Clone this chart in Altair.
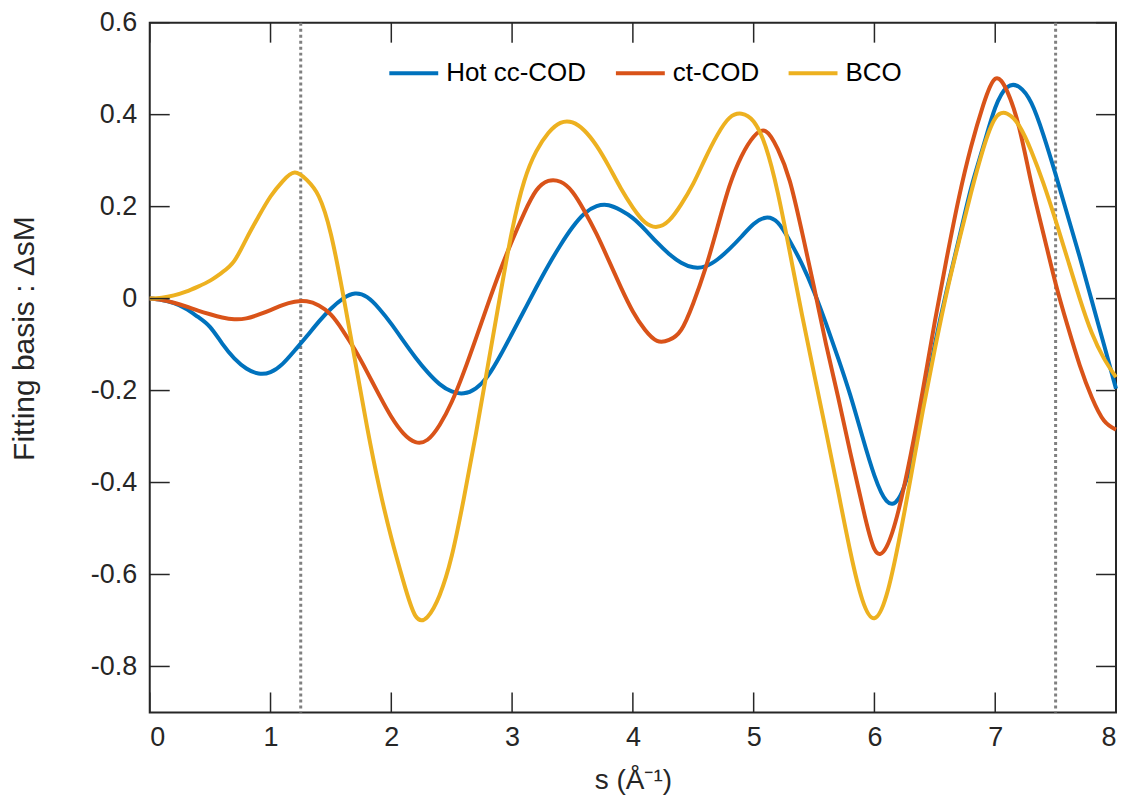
import altair as alt
import pandas as pd

s_grid = [round(i * 0.1, 1) for i in range(81)]

hot_v = [0, -0.003, -0.010, -0.022, -0.040, -0.062, -0.098, -0.130, -0.152, -0.163,
         -0.160, -0.142, -0.113, -0.082, -0.050, -0.022, 0.000, 0.011, 0.003, -0.022,
         -0.055, -0.092, -0.128, -0.160, -0.186, -0.202, -0.206, -0.195, -0.168, -0.125,
         -0.076, -0.026, 0.024, 0.072, 0.116, 0.155, 0.185, 0.201, 0.203, 0.192,
         0.175, 0.150, 0.122, 0.097, 0.078, 0.068, 0.070, 0.085, 0.108, 0.135,
         0.162, 0.176, 0.165, 0.125, 0.075, 0.015, -0.055, -0.130, -0.210, -0.300,
         -0.385, -0.440, -0.435, -0.360, -0.235, -0.100, 0.020, 0.130, 0.240, 0.330,
         0.415, 0.460, 0.460, 0.425, 0.355, 0.270, 0.180, 0.090, -0.005, -0.100,
         -0.196]

ct_v = [0, -0.003, -0.009, -0.017, -0.026, -0.034, -0.041, -0.045, -0.043, -0.035,
        -0.025, -0.014, -0.007, -0.006, -0.015, -0.035, -0.070, -0.112, -0.160, -0.210,
        -0.257, -0.293, -0.312, -0.307, -0.275, -0.225, -0.160, -0.087, -0.012, 0.060,
        0.126, 0.186, 0.235, 0.256, 0.254, 0.232, 0.190, 0.140, 0.083, 0.025,
        -0.028, -0.068, -0.092, -0.090, -0.068, -0.010, 0.065, 0.155, 0.245, 0.310,
        0.352, 0.364, 0.325, 0.255, 0.145, 0.025, -0.100, -0.215, -0.335, -0.450,
        -0.545, -0.540, -0.460, -0.340, -0.200, -0.050, 0.090, 0.220, 0.330, 0.420,
        0.478, 0.450, 0.370, 0.250, 0.140, 0.033, -0.060, -0.145, -0.215, -0.265,
        -0.285]

bco_v = [0, 0.002, 0.007, 0.015, 0.026, 0.039, 0.057, 0.082, 0.130, 0.178,
         0.222, 0.255, 0.274, 0.258, 0.222, 0.140, 0.010, -0.135, -0.280, -0.410,
         -0.520, -0.615, -0.690, -0.692, -0.645, -0.560, -0.435, -0.295, -0.145, 0.005,
         0.148, 0.255, 0.320, 0.360, 0.382, 0.383, 0.365, 0.332, 0.288, 0.240,
         0.198, 0.166, 0.156, 0.170, 0.205, 0.250, 0.305, 0.356, 0.393, 0.402,
         0.385, 0.330, 0.230, 0.100, -0.035, -0.163, -0.290, -0.420, -0.550, -0.655,
         -0.695, -0.645, -0.530, -0.390, -0.245, -0.110, 0.015, 0.125, 0.230, 0.325,
         0.392, 0.402, 0.375, 0.320, 0.250, 0.170, 0.085, 0.000, -0.075, -0.130,
         -0.171]

series_names = ["Hot cc-COD", "ct-COD", "BCO"]
series_colors = ["#0072BD", "#D95319", "#EDB120"]
x_ticks = [0, 1, 2, 3, 4, 5, 6, 7, 8]
y_ticks = [-0.8, -0.6, -0.4, -0.2, 0, 0.2, 0.4, 0.6]
v_lines = [1.25, 7.5]

W, H = 968, 691
FONT = "Liberation Sans"
AX = "#262626"
TL = 20

def frame(name, v):
    return pd.DataFrame({"s": s_grid, "val": v, "series": name})

dfs = [frame(series_names[0], hot_v),
       frame(series_names[1], ct_v),
       frame(series_names[2], bco_v)]

xs = alt.Scale(domain=[0, 8], nice=False, zero=False)
ys = alt.Scale(domain=[-0.9, 0.6], nice=False, zero=False)
cs = alt.Scale(domain=series_names, range=series_colors)

x_axis = alt.Axis(values=x_ticks, ticks=False, domain=False, grid=False,
                  labelFont=FONT, labelFontSize=27, labelColor=AX, labelPadding=12,
                  labelExpr="'' + datum.value",
                  title="s (Å⁻¹)", titleFont=FONT, titleFontSize=28, titleFontWeight="normal",
                  titleColor=AX, titleX=W / 2, titleY=76, titleAlign="center",
                  titleBaseline="alphabetic")
y_axis = alt.Axis(values=y_ticks, ticks=False, domain=False, grid=False,
                  labelFont=FONT, labelFontSize=27, labelColor=AX, labelPadding=13,
                  labelExpr="'' + datum.value",
                  title="Fitting basis :  ΔsM", titleFont=FONT, titleFontSize=30,
                  titleFontWeight="normal", titleColor=AX, titleX=-116, titleY=316,
                  titleAngle=270, titleAlign="center", titleBaseline="alphabetic")

legend = alt.Legend(title=None, orient="none", legendX=238, legendY=24, direction="horizontal",
                    symbolType="stroke", symbolSize=2400, symbolStrokeWidth=4,
                    labelFont=FONT, labelFontSize=26, labelColor="black", labelOffset=6,
                    columnPadding=21, padding=0, values=series_names)

layers = []
vdf = pd.DataFrame({"s": v_lines})
layers.append(alt.Chart(vdf).mark_rule(color="#808080", strokeWidth=3, strokeDash=[3, 3]).encode(
    x=alt.X("s:Q", scale=xs, axis=x_axis), y=alt.value(0), y2=alt.value(H)))

for i, d in enumerate(dfs):
    layers.append(alt.Chart(d).mark_line(strokeWidth=4, interpolate="natural").encode(
        x=alt.X("s:Q", scale=xs, axis=x_axis),
        y=alt.Y("val:Q", scale=ys, axis=y_axis),
        color=alt.Color("series:N", scale=cs, legend=legend, sort=series_names)))

ydf = pd.DataFrame({"t": y_ticks})
xdf = pd.DataFrame({"t": x_ticks})
layers.append(alt.Chart(ydf).mark_rule(color=AX, strokeWidth=1.5).encode(
    y=alt.Y("t:Q", scale=ys, axis=y_axis), x=alt.value(0), x2=alt.value(TL)))
layers.append(alt.Chart(ydf).mark_rule(color=AX, strokeWidth=1.5).encode(
    y=alt.Y("t:Q", scale=ys, axis=y_axis), x=alt.value(W - TL), x2=alt.value(W)))
layers.append(alt.Chart(xdf).mark_rule(color=AX, strokeWidth=1.5).encode(
    x=alt.X("t:Q", scale=xs, axis=x_axis), y=alt.value(H - TL), y2=alt.value(H)))
layers.append(alt.Chart(xdf).mark_rule(color=AX, strokeWidth=1.5).encode(
    x=alt.X("t:Q", scale=xs, axis=x_axis), y=alt.value(0), y2=alt.value(TL)))

chart = alt.layer(*layers).properties(
    width=W, height=H,
    autosize=alt.AutoSizeParams(type="none"),
    padding={"left": 142, "top": 14, "right": 2, "bottom": 83},
    background="white",
).configure_view(stroke=AX, strokeWidth=2)

chart.save("out.html", embed_options={"renderer": "svg", "actions": False})
